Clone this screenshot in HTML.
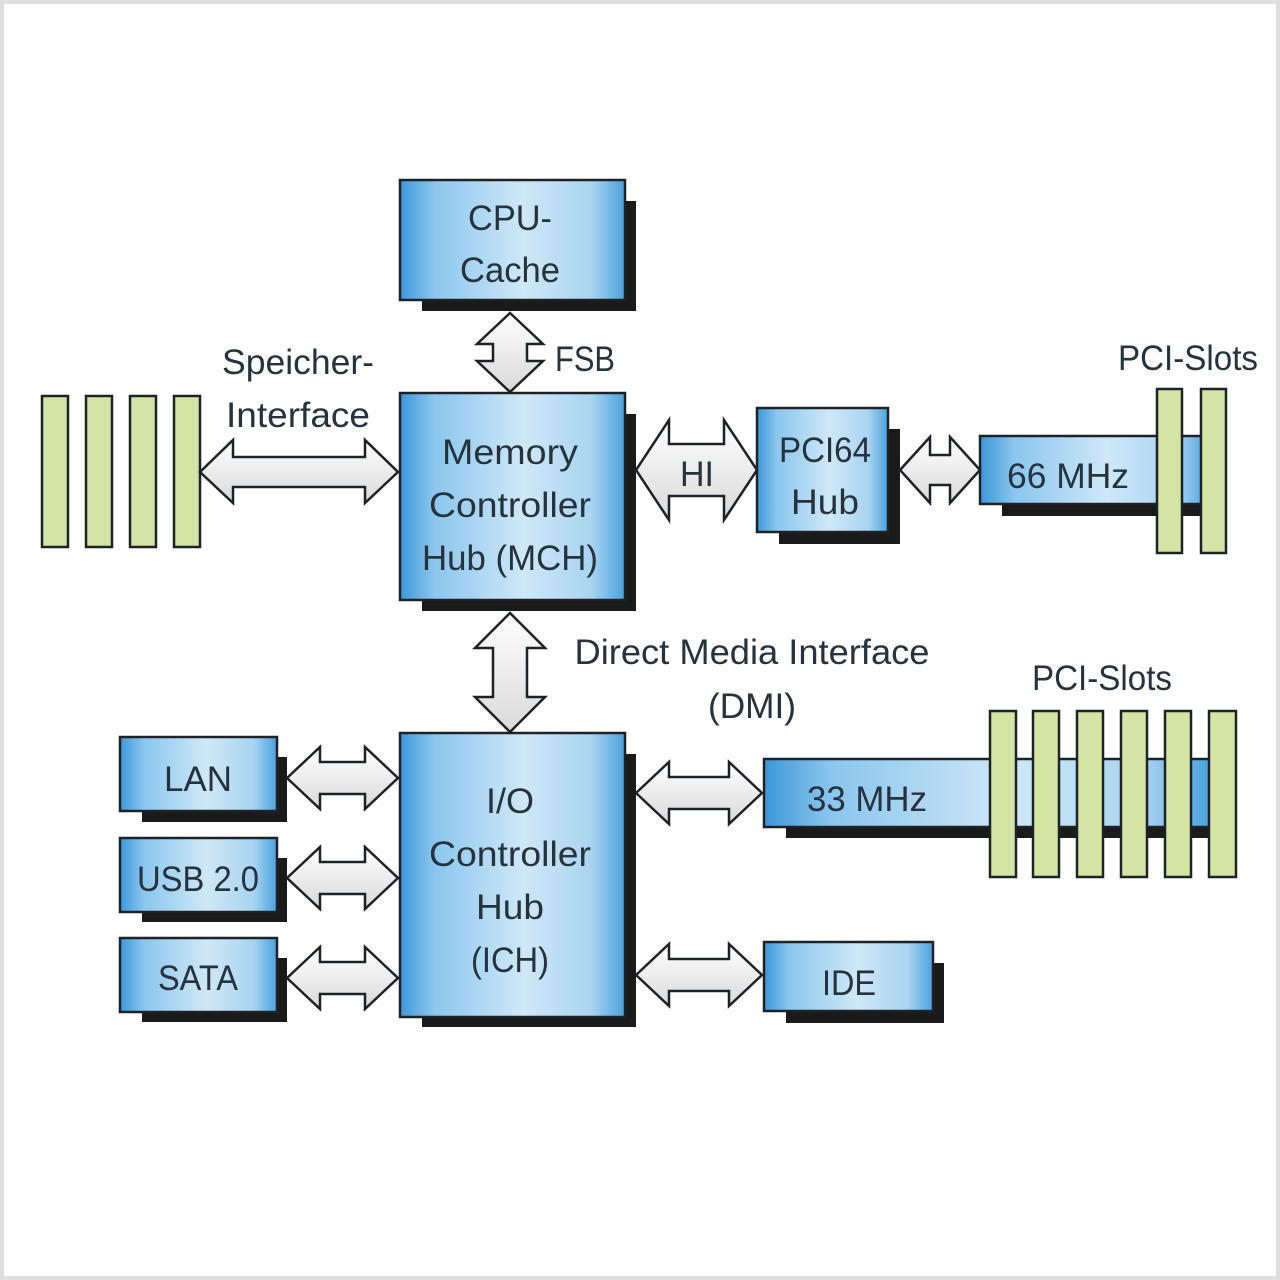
<!DOCTYPE html>
<html><head><meta charset="utf-8"><style>
html,body{margin:0;padding:0;background:#fff}
svg{display:block}
text{font-family:"Liberation Sans",sans-serif;fill:#26323d;font-size:35px;text-anchor:middle}
</style></head><body>
<svg width="1280" height="1280" viewBox="0 0 1280 1280" xmlns="http://www.w3.org/2000/svg">
<defs>
<linearGradient id="b" x1="0" y1="0" x2="1" y2="0">
<stop offset="0" stop-color="#3d97d9"/><stop offset="0.15" stop-color="#8ac6ee"/>
<stop offset="0.55" stop-color="#cfe8f7"/><stop offset="0.85" stop-color="#a9d4f1"/>
<stop offset="1" stop-color="#4aa2dd"/></linearGradient>
<linearGradient id="a" x1="0" y1="0" x2="0" y2="1">
<stop offset="0" stop-color="#ffffff"/><stop offset="1" stop-color="#d9d9d9"/></linearGradient>
</defs>
<rect x="2" y="2" width="1276" height="1276" fill="#fff" stroke="#ddd" stroke-width="4"/>
<g stroke="#1e2226" stroke-width="2.5">
<g fill="#1a1a1a" stroke="none">
<rect x="422" y="201" width="214" height="110"/>
<rect x="422" y="414" width="214" height="197"/>
<rect x="422" y="754" width="214" height="273"/>
<rect x="779" y="429" width="121" height="115"/>
<rect x="1002" y="457" width="208" height="59"/>
<rect x="142" y="757" width="145" height="65"/>
<rect x="142" y="858" width="145" height="64"/>
<rect x="142" y="958" width="145" height="64"/>
<rect x="786" y="780" width="424" height="58"/>
<rect x="786" y="963" width="158" height="60"/>
</g>
<g fill="url(#b)">
<rect x="400" y="180" width="225" height="120"/>
<rect x="400" y="393" width="225" height="207"/>
<rect x="400" y="733" width="225" height="284"/>
<rect x="757" y="408" width="131" height="124"/>
<rect x="980" y="436" width="230" height="68"/>
<rect x="120" y="737" width="157" height="74"/>
<rect x="120" y="838" width="157" height="74"/>
<rect x="120" y="938" width="157" height="74"/>
<rect x="764" y="759" width="446" height="68"/>
<rect x="764" y="942" width="169" height="69"/>
</g>
<g fill="#d3e4a4">
<rect x="42" y="396" width="26" height="151"/>
<rect x="86" y="396" width="26" height="151"/>
<rect x="130" y="396" width="26" height="151"/>
<rect x="174" y="396" width="26" height="151"/>
<rect x="1157" y="389" width="25" height="164"/>
<rect x="1201" y="389" width="25" height="164"/>
<rect x="990" y="711" width="26" height="166"/>
<rect x="1033" y="711" width="26" height="166"/>
<rect x="1077" y="711" width="26" height="166"/>
<rect x="1121" y="711" width="26" height="166"/>
<rect x="1165" y="711" width="26" height="166"/>
<rect x="1209" y="711" width="27" height="166"/>
</g>
<g fill="url(#a)">
<polygon points="287,778 320,747 320,762 365,762 365,747 398,778 365,809 365,794 320,794 320,809"/>
<polygon points="287,878 320,847 320,862 365,862 365,847 398,878 365,909 365,894 320,894 320,909"/>
<polygon points="287,978 320,947 320,962 365,962 365,947 398,978 365,1009 365,994 320,994 320,1009"/>
<polygon points="636,793 669,762 669,777 729,777 729,762 762,793 729,824 729,809 669,809 669,824"/>
<polygon points="636,975 669,944 669,959 729,959 729,944 762,975 729,1006 729,991 669,991 669,1006"/>
<polygon points="200,472 233,440 233,457 365,457 365,440 398,472 365,503 365,487 233,487 233,503"/>
<polygon points="636,470 669,420 669,444 724,444 724,420 757,470 724,520 724,496 669,496 669,520"/>
<polygon points="900,470 930,437 930,455 950,455 950,437 980,470 950,503 950,485 930,485 930,503"/>
<polygon points="510,313 543,344 527,344 527,361 543,361 510,392 477,361 493,361 493,344 477,344"/>
<polygon points="510,613 545,648 527,648 527,697 545,697 510,732 475,697 493,697 493,648 475,648"/>
</g>
</g>
<g lengthAdjust="spacingAndGlyphs">
<text x="510" y="230" textLength="84" lengthAdjust="spacingAndGlyphs">CPU-</text>
<text x="510" y="282" textLength="100" lengthAdjust="spacingAndGlyphs">Cache</text>
<text x="585" y="371" textLength="60" lengthAdjust="spacingAndGlyphs">FSB</text>
<text x="298" y="374" textLength="152" lengthAdjust="spacingAndGlyphs">Speicher-</text>
<text x="298" y="427" textLength="144" lengthAdjust="spacingAndGlyphs">Interface</text>
<text x="510" y="464" textLength="136" lengthAdjust="spacingAndGlyphs">Memory</text>
<text x="510" y="517" textLength="162" lengthAdjust="spacingAndGlyphs">Controller</text>
<text x="510" y="570" textLength="176" lengthAdjust="spacingAndGlyphs">Hub (MCH)</text>
<text x="697" y="486" textLength="34" lengthAdjust="spacingAndGlyphs">HI</text>
<text x="825" y="462" textLength="92" lengthAdjust="spacingAndGlyphs">PCI64</text>
<text x="825" y="514" textLength="68" lengthAdjust="spacingAndGlyphs">Hub</text>
<text x="1068" y="488" textLength="122" lengthAdjust="spacingAndGlyphs">66 MHz</text>
<text x="1188" y="370" textLength="140" lengthAdjust="spacingAndGlyphs">PCI-Slots</text>
<text x="752" y="664" textLength="355" lengthAdjust="spacingAndGlyphs">Direct Media Interface</text>
<text x="752" y="718" textLength="88" lengthAdjust="spacingAndGlyphs">(DMI)</text>
<text x="1102" y="690" textLength="140" lengthAdjust="spacingAndGlyphs">PCI-Slots</text>
<text x="510" y="813" textLength="48" lengthAdjust="spacingAndGlyphs">I/O</text>
<text x="510" y="866" textLength="162" lengthAdjust="spacingAndGlyphs">Controller</text>
<text x="510" y="919" textLength="68" lengthAdjust="spacingAndGlyphs">Hub</text>
<text x="510" y="972" textLength="78" lengthAdjust="spacingAndGlyphs">(ICH)</text>
<text x="198" y="791" textLength="68" lengthAdjust="spacingAndGlyphs">LAN</text>
<text x="198" y="891" textLength="122" lengthAdjust="spacingAndGlyphs">USB 2.0</text>
<text x="198" y="990" textLength="80" lengthAdjust="spacingAndGlyphs">SATA</text>
<text x="867" y="811" textLength="120" lengthAdjust="spacingAndGlyphs">33 MHz</text>
<text x="849" y="995" textLength="54" lengthAdjust="spacingAndGlyphs">IDE</text>
</g>
</svg>
</body></html>
